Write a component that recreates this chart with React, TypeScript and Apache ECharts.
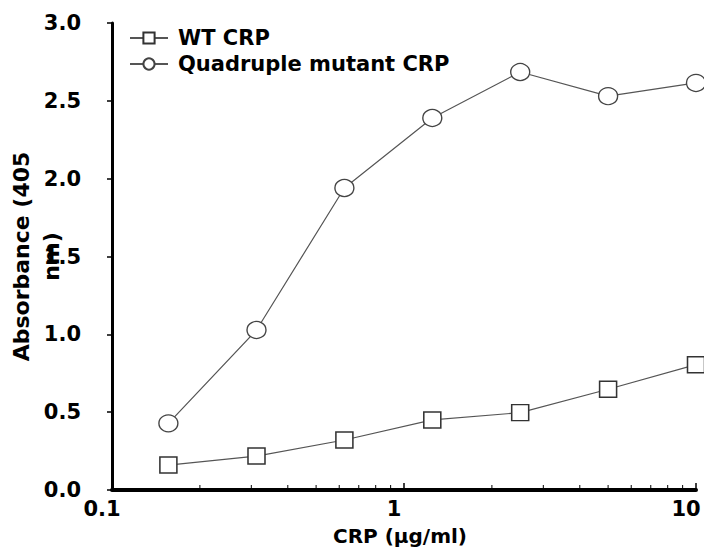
import React, { useEffect, useRef } from "react";
import * as echarts from "echarts";

const concentrations = [0.156, 0.3125, 0.625, 1.25, 2.5, 5, 10];
const wtValues = [0.16, 0.218, 0.321, 0.45, 0.497, 0.647, 0.805];
const mutantValues = [0.428, 1.028, 1.94, 2.39, 2.685, 2.53, 2.615];
const minorTickValues = [0.2, 0.3, 0.4, 0.5, 0.6, 0.7, 0.8, 0.9, 2, 3, 4, 5, 6, 7, 8, 9];
const yTicks = { min: 0, max: 3, interval: 0.5 };
const seriesNames = ["WT CRP", "Quadruple mutant CRP"];
const xTitle = "CRP (\u00b5g/ml)";
const yTitle = "Absorbance (405\nnm)";

const FONT = "'DejaVu Sans', sans-serif";

export default function App() {
  const ref = useRef<HTMLDivElement>(null);
  useEffect(() => {
    if (!ref.current) return;
    const chart = echarts.init(ref.current, null, { renderer: "svg" });
    const pair = (ys: number[]) => concentrations.map((x, i) => [x, ys[i]]);
    chart.setOption({
      animation: false,
      backgroundColor: "#fff",
      grid: { left: 112, right: 8, top: 23, bottom: 66, containLabel: false, outerBoundsMode: "none" },
      legend: {
        orient: "vertical",
        left: 129,
        top: 27,
        padding: 0,
        itemWidth: 38,
        itemHeight: 14,
        itemGap: 4,
        data: seriesNames,
        textStyle: {
          fontFamily: FONT,
          fontWeight: "bold",
          fontSize: 21,
          color: "#000",
          lineHeight: 22,
          padding: [0, 0, 0, 5],
        },
      },
      xAxis: {
        type: "log",
        logBase: 10,
        min: 0.1,
        max: 10,
        name: xTitle,
        nameLocation: "middle",
        nameGap: 36,
        nameMoveOverlap: false,
        nameTextStyle: { fontFamily: FONT, fontWeight: "bold", fontSize: 20, color: "#000", padding: [0, 8, 0, 0] },
        axisLine: { show: true, lineStyle: { color: "#000", width: 4 } },
        axisTick: { show: true, inside: true, length: 7, lineStyle: { color: "#000", width: 1.5 } },
        splitLine: { show: false },
        minorTick: { show: false },
        axisLabel: {
          margin: 8,
          fontFamily: FONT,
          fontWeight: "bold",
          fontSize: 21,
          color: "#000",
          padding: [0, 20, 0, 0],
          formatter: (v: number) => String(+Number(v).toPrecision(3)),
        },
      },
      yAxis: {
        type: "value",
        min: yTicks.min,
        max: yTicks.max,
        interval: yTicks.interval,
        name: yTitle,
        nameLocation: "middle",
        nameGap: 46,
        nameRotate: 90,
        nameMoveOverlap: false,
        nameTextStyle: {
          fontFamily: FONT,
          fontWeight: "bold",
          fontSize: 22,
          color: "#000",
          lineHeight: 30,
        },
        axisLine: { show: true, lineStyle: { color: "#000", width: 3 } },
        axisTick: { show: true, inside: false, length: 5, lineStyle: { color: "#000", width: 1.5 } },
        splitLine: { show: false },
        axisLabel: {
          margin: 31,
          fontFamily: FONT,
          fontWeight: "bold",
          fontSize: 21,
          color: "#000",
          formatter: (v: number) => v.toFixed(1),
        },
      },
      series: [
        {
          name: seriesNames[0],
          type: "line",
          data: pair(wtValues),
          symbol: "rect",
          symbolSize: [17, 16],
          lineStyle: { color: "#555", width: 1.2 },
          itemStyle: { color: "#fff", borderColor: "#333", borderWidth: 1.5 },
          z: 3,
        },
        {
          name: seriesNames[1],
          type: "line",
          data: pair(mutantValues),
          symbol: "circle",
          symbolSize: [19, 17],
          lineStyle: { color: "#555", width: 1.2 },
          itemStyle: { color: "#fff", borderColor: "#444", borderWidth: 1.3 },
          z: 3,
        },
        {
          name: "minorTicks",
          type: "custom",
          silent: true,
          data: minorTickValues.map((v) => [v, 0]),
          renderItem: (_params: any, api: any) => {
            const p = api.coord([api.value(0), api.value(1)]);
            return {
              type: "line",
              shape: { x1: p[0], y1: p[1] - 2, x2: p[0], y2: p[1] - 5 },
              style: { stroke: "#000", lineWidth: 1 },
            };
          },
          z: 1,
        },
      ],
    });
    return () => chart.dispose();
  }, []);
  return <div ref={ref} style={{ width: 704, height: 556, position: "absolute", left: 0, top: 0 }} />;
}
